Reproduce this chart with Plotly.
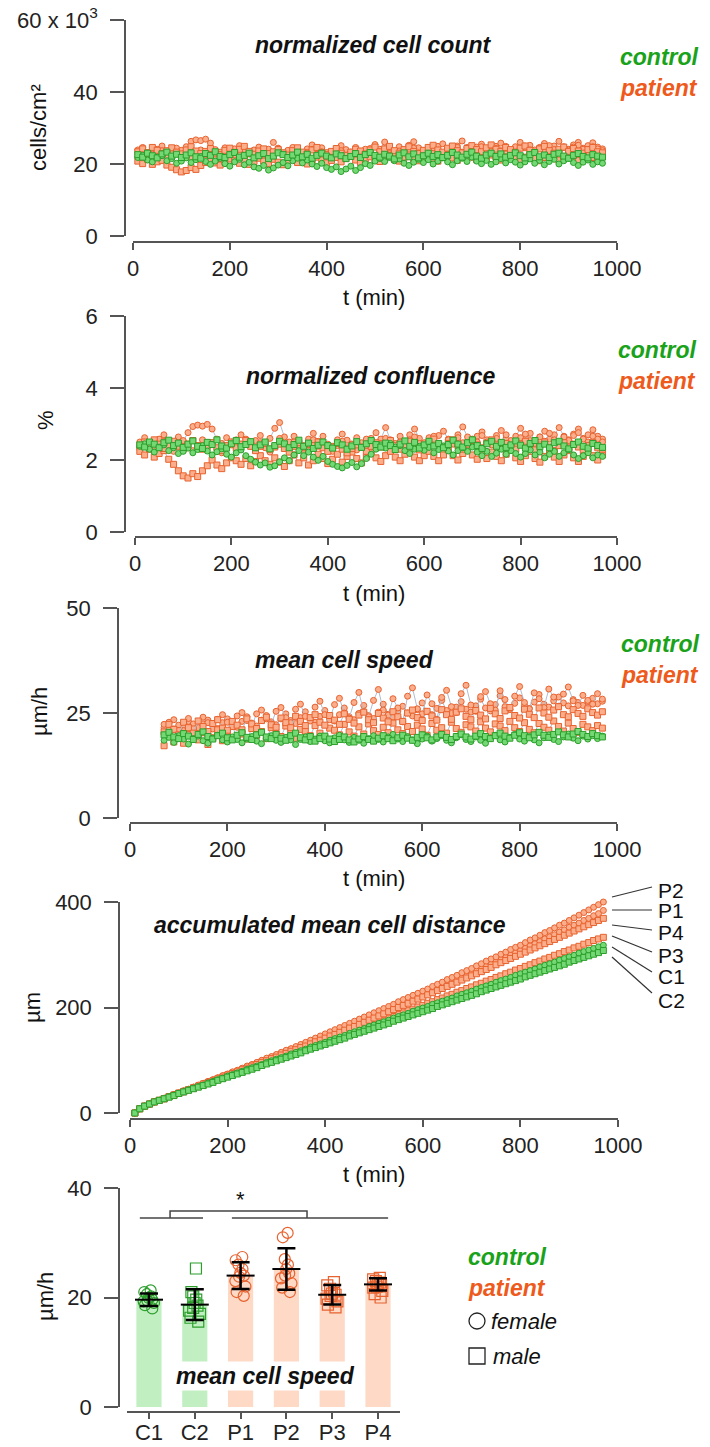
import plotly.graph_objects as go

# ---------------- data ----------------
TIME = list(range(10, 980, 10))          # min, panels 1,2,4
SPEED_TIME = list(range(70, 980, 10))    # min, panel 3
SAMPLES = ["C1", "C2", "P1", "P2", "P3", "P4"]
SEX = {"C1": "female", "C2": "male", "P1": "female", "P2": "female", "P3": "male", "P4": "male"}

# normalized cell count (x10^3 cells/cm2)
count_C1 = [21.8,22.4,21.1,20.6,21.9,22.3,20.9,21.5,20.2,20.8,
            21.7,20.4,21.2,22.1,20.7,19.9,20.8,21.6,20.1,19.4,
            20.6,21.3,19.8,20.5,19.2,18.8,19.6,18.3,18.9,19.7,
            20.4,19.5,20.9,21.6,20.3,21.1,20.0,19.3,20.2,19.0,
            18.5,19.2,17.9,18.6,19.4,18.2,19.0,20.1,19.6,20.8,
            21.5,20.7,21.8,20.9,21.4,20.2,19.6,20.5,21.3,20.4,
            21.2,20.0,20.8,21.7,20.6,19.8,20.9,21.6,20.7,21.9,
            20.8,20.1,21.0,19.9,20.6,21.5,20.3,21.2,20.5,19.7,
            20.6,21.4,20.2,21.0,19.8,20.7,21.3,20.0,20.9,21.6,
            20.4,19.6,20.5,21.1,19.9,20.6,20.2]
count_C2 = [22.6,21.9,23.0,22.3,21.7,22.8,23.3,22.2,22.7,21.8,
            22.5,23.1,22.0,21.6,22.9,22.4,23.4,22.1,21.8,22.6,
            23.2,21.9,22.4,23.0,21.7,22.3,22.9,21.5,22.2,23.1,
            22.6,21.8,22.5,23.3,22.0,22.7,21.6,22.4,23.0,22.2,
            21.7,22.8,22.3,21.5,22.1,22.9,21.8,22.6,23.2,22.4,
            21.9,22.7,22.2,21.4,22.5,23.1,22.0,22.8,21.7,22.3,
            23.0,22.1,22.6,21.8,22.4,23.2,22.5,21.9,22.7,23.3,
            22.2,21.6,22.5,23.0,22.1,22.8,21.9,22.4,23.1,22.3,
            21.7,22.6,23.2,22.0,22.5,21.8,22.7,23.0,22.2,21.6,
            22.4,22.9,22.1,21.7,22.6,22.2,21.9]
count_P1 = [23.9,24.6,23.2,22.7,24.1,25.0,23.5,22.9,24.4,23.6,
            24.8,26.3,26.7,26.5,26.9,25.8,24.0,23.3,24.5,23.1,
            24.2,25.1,23.4,22.8,23.9,24.7,23.3,24.1,26.0,24.4,
            23.0,23.8,24.6,23.5,22.9,24.2,25.3,23.7,24.5,23.2,
            22.7,23.9,25.1,24.0,23.3,24.6,23.1,22.8,24.3,25.4,
            24.1,26.1,24.0,23.4,24.8,23.6,25.2,26.2,24.5,23.7,
            24.4,23.5,24.9,25.6,24.2,23.8,25.0,26.4,24.6,23.9,
            24.7,25.5,24.0,23.6,24.9,25.8,24.3,23.7,24.8,26.0,
            24.5,25.2,23.9,24.6,25.7,24.2,25.0,26.3,24.8,24.1,
            25.3,26.0,24.4,25.1,25.9,24.7,24.2]
count_P2 = [22.1,23.3,22.5,21.6,22.9,23.7,22.2,21.8,23.0,23.8,
            22.4,21.7,22.8,23.9,22.6,23.4,22.0,21.5,22.7,23.6,
            22.3,23.1,24.0,22.8,22.1,23.5,22.4,21.6,22.9,24.2,
            23.0,22.3,23.6,22.5,21.9,23.2,24.0,22.7,23.4,22.2,
            21.8,22.9,23.7,22.4,23.1,22.0,23.5,24.1,22.8,22.3,
            23.3,24.2,22.9,22.4,23.6,22.7,23.9,24.4,23.1,22.6,
            23.8,24.5,23.2,22.8,24.0,23.4,24.6,23.3,22.9,24.2,
            23.6,24.8,23.5,23.0,24.3,23.7,24.9,23.8,23.2,24.4,
            25.0,23.9,23.3,24.5,23.8,25.1,24.0,23.4,24.6,23.9,
            24.7,25.2,24.1,23.6,24.8,24.2,23.7]
count_P3 = [20.8,20.1,21.3,19.9,20.6,21.0,19.7,19.1,18.4,17.8,
            18.2,19.0,18.5,19.6,20.4,21.2,20.3,19.7,20.6,21.4,
            20.9,20.2,21.1,19.9,20.7,21.6,20.8,20.1,21.3,20.5,
            19.8,20.9,21.7,20.4,21.2,20.0,20.8,21.9,21.1,20.3,
            21.0,21.8,20.6,21.5,22.2,21.1,20.4,21.3,22.0,21.2,
            20.7,21.6,22.4,21.3,20.8,21.9,22.5,21.4,20.9,21.7,
            22.3,21.5,20.8,21.8,22.6,21.7,21.0,22.1,22.8,21.9,
            21.2,22.0,21.4,22.5,21.8,21.1,22.2,22.9,21.6,21.0,
            21.9,22.6,21.5,20.9,21.8,22.7,21.7,21.1,22.0,22.8,
            21.6,21.0,21.9,22.6,21.8,21.2,22.1]
count_P4 = [23.4,24.2,23.1,24.6,23.8,22.9,23.7,24.5,23.3,22.8,
            23.9,24.8,23.6,22.9,23.5,24.3,23.0,22.6,23.8,24.4,
            23.2,24.1,24.9,23.5,22.7,23.6,24.2,22.9,23.4,24.0,
            23.1,22.5,23.7,24.5,23.3,22.8,23.9,24.6,23.2,22.6,
            23.5,24.3,23.0,22.4,23.3,24.1,23.6,22.8,23.9,24.7,
            23.4,24.2,24.9,23.7,23.0,24.0,24.8,23.5,22.9,23.8,
            24.6,25.2,23.9,23.3,24.4,25.0,23.7,23.1,24.3,25.1,
            24.0,23.4,24.5,25.3,24.1,23.5,24.6,24.0,23.3,24.4,
            25.0,23.8,23.2,24.2,24.9,23.7,23.0,24.1,24.7,23.5,
            24.3,23.6,23.0,24.0,24.6,23.4,23.1]

# normalized confluence (%)
conf_C1 = [2.38,2.45,2.30,2.22,2.36,2.42,2.26,2.34,2.18,2.24,
           2.33,2.20,2.29,2.40,2.25,2.14,2.23,2.31,2.16,2.08,
           2.20,2.28,2.12,2.02,1.94,1.86,1.92,1.80,1.84,1.95,
           2.06,1.98,2.14,2.26,2.12,2.22,2.08,1.99,2.10,1.96,
           1.88,1.82,1.78,1.85,1.93,1.81,1.90,2.04,2.16,2.30,
           2.42,2.33,2.46,2.36,2.40,2.26,2.18,2.30,2.38,2.27,
           2.35,2.20,2.29,2.39,2.25,2.14,2.26,2.34,2.24,2.36,
           2.22,2.12,2.24,2.10,2.19,2.30,2.16,2.26,2.18,2.08,
           2.18,2.28,2.14,2.22,2.06,2.16,2.24,2.10,2.20,2.29,
           2.14,2.04,2.12,2.20,2.06,2.14,2.10]
conf_C2 = [2.42,2.36,2.50,2.44,2.34,2.48,2.55,2.40,2.47,2.35,
           2.44,2.53,2.38,2.32,2.49,2.43,2.56,2.39,2.33,2.45,
           2.54,2.37,2.43,2.51,2.34,2.42,2.50,2.31,2.40,2.52,
           2.45,2.34,2.43,2.55,2.38,2.47,2.32,2.41,2.50,2.40,
           2.33,2.48,2.42,2.30,2.39,2.51,2.35,2.45,2.54,2.43,
           2.36,2.47,2.40,2.29,2.44,2.53,2.38,2.49,2.33,2.42,
           2.52,2.39,2.46,2.34,2.43,2.55,2.44,2.36,2.48,2.56,
           2.40,2.32,2.45,2.52,2.38,2.49,2.35,2.42,2.53,2.41,
           2.33,2.46,2.54,2.37,2.44,2.34,2.48,2.52,2.39,2.31,
           2.43,2.50,2.38,2.33,2.46,2.40,2.35]
conf_P1 = [2.50,2.62,2.44,2.36,2.58,2.70,2.48,2.40,2.64,2.52,
           2.76,2.93,2.97,2.94,2.99,2.86,2.58,2.46,2.62,2.42,
           2.56,2.70,2.47,2.38,2.54,2.68,2.46,2.60,2.88,3.04,
           2.64,2.50,2.66,2.48,2.40,2.58,2.74,2.52,2.66,2.44,
           2.38,2.56,2.72,2.55,2.44,2.62,2.42,2.36,2.60,2.76,
           2.58,2.90,2.56,2.46,2.66,2.50,2.70,2.86,2.60,2.48,
           2.62,2.50,2.68,2.80,2.58,2.50,2.70,2.92,2.64,2.52,
           2.66,2.78,2.56,2.48,2.68,2.82,2.60,2.50,2.66,2.88,
           2.62,2.74,2.54,2.64,2.80,2.58,2.70,2.90,2.66,2.56,
           2.72,2.86,2.60,2.70,2.84,2.66,2.58]
conf_P2 = [2.30,2.46,2.36,2.22,2.40,2.52,2.32,2.24,2.42,2.54,
           2.36,2.26,2.40,2.56,2.38,2.48,2.30,2.20,2.36,2.50,
           2.32,2.44,2.58,2.40,2.28,2.48,2.34,2.22,2.40,2.60,
           2.44,2.32,2.50,2.36,2.26,2.44,2.56,2.38,2.48,2.30,
           2.24,2.40,2.52,2.34,2.44,2.28,2.48,2.58,2.40,2.32,
           2.46,2.60,2.42,2.34,2.50,2.38,2.56,2.64,2.46,2.36,
           2.52,2.66,2.46,2.38,2.56,2.44,2.62,2.48,2.40,2.58,
           2.50,2.68,2.50,2.42,2.60,2.48,2.70,2.54,2.44,2.62,
           2.72,2.54,2.46,2.64,2.52,2.74,2.56,2.46,2.64,2.54,
           2.68,2.76,2.58,2.50,2.66,2.58,2.50]
conf_P3 = [2.24,2.14,2.30,2.08,2.18,2.26,2.02,1.88,1.70,1.56,
           1.50,1.62,1.54,1.70,1.84,2.00,1.86,1.76,1.92,2.06,
           1.98,1.88,2.04,1.84,1.96,2.12,1.98,1.88,2.06,1.94,
           1.82,1.98,2.14,1.92,2.06,1.86,1.98,2.16,2.04,1.90,
           2.02,2.16,1.94,2.10,2.22,2.04,1.92,2.08,2.20,2.06,
           1.96,2.12,2.24,2.08,1.98,2.16,2.26,2.08,1.98,2.12,
           2.24,2.10,1.98,2.14,2.28,2.12,2.00,2.18,2.30,2.14,
           2.02,2.16,2.04,2.22,2.10,1.98,2.16,2.28,2.06,1.96,
           2.12,2.24,2.04,1.94,2.10,2.22,2.08,1.96,2.14,2.26,
           2.06,1.96,2.10,2.22,2.12,2.00,2.14]
conf_P4 = [2.40,2.50,2.36,2.56,2.44,2.32,2.42,2.52,2.38,2.30,
           2.44,2.54,2.40,2.30,2.38,2.48,2.34,2.26,2.40,2.50,
           2.34,2.44,2.54,2.38,2.26,2.38,2.46,2.30,2.36,2.44,
           2.32,2.22,2.38,2.48,2.34,2.26,2.40,2.50,2.34,2.24,
           2.36,2.46,2.30,2.20,2.32,2.42,2.36,2.24,2.38,2.48,
           2.36,2.44,2.54,2.40,2.30,2.42,2.52,2.38,2.28,2.40,
           2.50,2.58,2.42,2.34,2.46,2.56,2.40,2.30,2.44,2.54,
           2.42,2.34,2.46,2.56,2.42,2.32,2.46,2.38,2.30,2.44,
           2.52,2.38,2.28,2.42,2.50,2.36,2.26,2.40,2.48,2.34,
           2.44,2.36,2.28,2.40,2.48,2.34,2.30]

# mean cell speed (um/h)
speed_C1 = [18.5,19.2,18.0,19.6,18.8,17.6,18.9,19.5,18.4,17.8,
            19.0,19.7,18.6,18.1,19.3,18.7,17.9,18.8,19.4,18.3,
            17.7,18.9,19.6,18.5,18.0,19.2,18.6,17.5,18.7,19.3,
            18.2,18.8,19.5,18.4,17.9,19.1,19.7,18.6,18.0,19.2,
            18.5,17.8,18.9,19.6,18.7,18.1,19.3,19.9,18.8,18.2,
            19.4,18.6,17.7,18.8,19.5,18.3,18.9,19.6,18.5,17.9,
            19.1,19.8,18.7,18.2,19.3,18.5,17.8,19.0,19.7,18.6,
            18.1,19.2,19.9,18.8,18.3,19.4,18.6,17.9,19.1,19.8,
            18.7,18.2,19.3,20.0,19.0,18.4,19.5,18.8,19.6,18.9,
            19.5]
speed_C2 = [19.8,20.4,19.3,18.9,20.1,19.5,18.7,19.9,20.5,19.4,
            18.8,19.6,20.2,19.1,18.6,19.7,20.3,19.2,18.7,19.8,
            20.4,19.3,18.9,19.9,19.0,18.5,19.6,20.2,19.1,18.6,
            19.4,18.3,18.9,19.5,18.8,18.2,18.7,19.3,18.6,18.1,
            18.8,19.4,18.7,18.3,19.0,19.6,18.9,18.4,19.1,19.7,
            19.0,18.5,19.2,19.8,19.1,18.6,19.3,19.9,19.2,18.7,
            19.4,20.0,19.3,18.8,19.5,20.1,19.4,18.9,19.6,20.2,
            19.5,19.0,19.7,20.3,19.6,19.1,19.8,20.4,19.7,19.2,
            19.9,20.5,19.8,19.3,20.0,20.6,19.9,19.4,20.1,19.6,
            19.3]
speed_P1 = [21.5,22.8,21.2,20.6,22.1,23.0,21.7,20.9,22.4,23.3,
            22.0,21.3,22.7,23.6,22.3,21.6,23.0,24.1,22.6,21.9,
            23.3,24.4,22.9,22.2,23.6,24.8,23.2,22.5,23.9,25.3,
            23.5,22.8,24.2,25.6,23.8,23.1,24.6,26.2,24.1,23.4,
            24.9,26.8,24.4,23.7,25.2,27.1,24.7,24.0,25.5,26.6,
            25.0,24.3,25.8,27.4,25.3,24.6,26.1,28.0,25.6,24.9,
            26.4,27.7,25.9,25.2,26.7,28.3,26.2,25.5,27.0,29.1,
            26.5,25.8,27.3,28.6,26.8,26.1,27.6,29.4,27.1,26.4,
            27.9,28.8,27.4,26.7,28.2,27.5,26.8,27.7,28.5,27.2,
            27.8]
speed_P2 = [22.3,21.0,23.4,22.1,20.8,23.7,22.4,21.5,24.0,22.7,
            21.2,23.5,24.6,22.8,21.9,24.3,25.1,23.2,22.0,24.8,
            25.7,23.6,22.4,25.4,26.3,23.9,22.7,25.9,27.1,24.2,
            23.1,26.4,27.8,24.6,23.4,27.0,28.5,25.0,23.8,27.5,
            29.9,25.3,24.1,28.0,30.6,25.7,24.5,28.4,26.2,22.9,
            29.0,31.0,26.0,24.8,29.3,27.2,23.5,28.7,30.4,26.5,
            25.1,29.6,31.6,26.9,25.4,28.9,30.1,27.2,25.7,30.3,
            28.2,25.9,29.0,31.3,27.5,26.0,29.8,28.4,26.3,30.7,
            28.8,26.6,29.5,31.2,27.9,26.8,29.2,28.0,27.1,29.6,
            28.3]
speed_P3 = [17.2,19.5,18.1,20.8,17.8,19.9,21.2,18.6,20.3,17.5,
            19.1,21.0,18.4,20.5,21.8,19.2,20.0,18.8,21.3,19.7,
            20.6,18.9,21.5,20.1,19.4,21.9,20.4,19.0,21.1,20.7,
            19.6,22.0,20.2,19.3,21.4,20.9,19.8,22.3,20.5,19.5,
            21.7,20.0,22.4,20.8,19.9,21.6,20.3,22.6,21.0,20.1,
            21.8,20.6,22.1,21.2,19.7,22.5,20.9,21.5,20.2,22.8,
            21.3,20.4,22.2,21.7,20.7,22.9,21.4,20.5,22.4,21.9,
            20.8,23.0,21.5,20.6,22.7,21.1,20.3,22.5,21.6,20.9,
            23.1,21.8,20.7,22.6,21.3,20.4,22.3,21.7,20.8,22.0,
            21.4]
speed_P4 = [20.5,22.3,21.1,19.8,22.8,21.5,20.2,23.1,21.8,20.6,
            22.5,23.4,21.4,20.9,23.0,22.1,21.0,23.6,22.4,21.3,
            23.2,24.0,22.2,21.6,23.8,22.7,21.5,24.2,23.0,22.0,
            23.9,24.6,22.8,22.1,24.4,23.3,22.3,24.8,23.5,22.6,
            24.5,25.2,23.4,22.7,24.9,23.8,22.9,25.3,24.1,23.0,
            25.0,25.7,23.9,23.2,25.4,24.3,23.3,25.8,24.6,23.5,
            25.2,26.0,24.2,23.4,25.6,24.5,23.6,26.1,24.8,23.7,
            25.5,26.3,24.4,23.8,25.9,24.7,23.9,26.2,25.0,24.0,
            25.7,26.5,24.6,24.1,25.8,24.9,24.2,26.0,25.1,24.5,
            25.3]

# accumulated mean cell distance (um)
dist_C1 = [0,8,13,17,21,24,27,31,34,37,40,44,47,50,53,57,60,63,66,70,
           73,76,79,83,86,89,92,96,99,102,105,108,112,115,118,121,125,128,131,134,
           138,141,144,147,151,154,157,160,164,167,170,173,176,180,183,186,189,193,196,199,
           202,206,209,212,215,218,222,225,228,231,235,238,241,244,248,251,254,257,261,264,
           267,270,273,277,280,283,286,290,293,296,299,303,306,309,312,315,318]
dist_C2 = [0,8,13,17,21,24,27,30,33,37,40,43,46,49,52,55,58,62,65,68,
           71,74,77,80,83,86,90,93,96,99,102,105,108,111,114,118,121,124,127,130,
           133,136,139,142,146,149,152,155,158,161,164,167,170,174,177,180,183,186,189,192,
           195,198,202,205,208,211,214,217,220,223,226,230,233,236,239,242,245,248,251,254,
           258,261,264,267,270,273,276,279,282,286,289,292,295,298,301,304,308]
dist_P1 = [0,8,13,17,21,24,28,31,35,38,42,45,49,52,56,59,63,66,70,73,
           77,80,84,88,91,95,99,102,106,110,113,117,121,124,128,132,136,139,143,147,
           151,154,158,162,166,170,174,177,181,185,189,193,197,201,205,209,213,217,221,225,
           229,233,237,241,245,249,253,257,262,266,270,274,278,282,287,291,295,299,304,308,
           312,317,321,325,330,334,338,343,347,352,356,360,365,369,374,378,384]
dist_P2 = [0,8,13,17,21,24,28,31,35,38,42,45,49,53,56,60,63,67,71,74,
           78,81,85,89,92,96,100,104,107,111,115,119,122,126,130,134,138,142,146,150,
           154,158,162,166,170,174,178,182,186,190,194,198,202,206,211,215,219,223,227,231,
           235,240,244,248,253,257,261,266,270,274,279,283,288,292,296,301,305,310,314,318,
           323,328,332,337,342,346,351,356,360,365,370,375,380,385,390,395,400]
dist_P3 = [0,8,13,17,21,24,27,31,34,37,40,44,47,50,53,57,60,63,66,70,
           73,76,79,83,86,89,92,96,99,102,105,109,112,115,118,122,125,128,132,135,
           138,142,145,148,152,155,159,162,166,169,173,176,180,183,187,190,194,197,201,204,
           208,211,215,218,222,225,229,232,236,239,243,246,250,253,257,260,264,267,271,274,
           278,281,285,288,292,295,299,302,306,309,313,316,320,323,327,330,333]
dist_P4 = [0,8,13,17,21,24,27,31,34,38,41,44,48,51,55,58,61,65,68,72,
           75,78,82,85,89,92,96,99,103,106,110,113,117,120,124,127,131,135,138,142,
           146,149,153,157,161,164,168,172,176,180,184,188,192,196,200,204,208,212,216,220,
           224,228,232,236,240,244,248,252,256,260,264,268,272,276,281,285,289,293,297,301,
           305,309,313,317,321,325,329,333,337,341,345,349,353,357,361,365,369]

# per-sample mean cell speed (um/h): individual values, mean, SD
pts_C1 = [18.0, 18.6, 19.0, 19.3, 19.6, 19.9, 20.2, 20.6, 21.0, 21.3, 19.4]
pts_C2 = [15.6, 16.3, 17.0, 17.6, 18.1, 18.5, 19.0, 19.6, 20.2, 21.0, 25.3]
pts_P1 = [20.3, 21.0, 22.0, 23.0, 23.8, 24.5, 25.2, 26.0, 26.8, 27.4, 24.0]
pts_P2 = [21.0, 21.8, 22.6, 23.5, 24.4, 25.2, 26.0, 27.0, 31.0, 31.8, 24.0]
pts_P3 = [18.2, 18.7, 19.3, 19.8, 20.3, 20.7, 21.1, 21.6, 22.2, 22.8, 20.5]
pts_P4 = [20.0, 20.6, 21.2, 21.8, 22.3, 22.7, 23.0, 23.3, 23.6, 22.5, 22.0]
bar_mean = [19.6, 18.7, 24.0, 25.2, 20.5, 22.4]
bar_sd = [1.15, 2.8, 2.45, 3.8, 1.8, 1.1]

# ---------------- style ----------------
W, H = 710, 1447
FONT = "Liberation Sans"
GREEN_FILL, GREEN_EDGE = "#74d874", "#2b9e2b"
ORANGE_FILL, ORANGE_EDGE = "#fbae8c", "#e8622f"
GREEN_TXT, ORANGE_TXT = "#1aa21a", "#ee5a1c"
GREEN_BAR, ORANGE_BAR = "#c2efc2", "#fdd9c6"
LINE_GRAY = "#b3bccb"
AX = "#555555"


def px(x):
    return x / W


def py(y):
    return 1 - y / H


fig = go.Figure()

series_sets = [
    (TIME, {"C1": count_C1, "C2": count_C2, "P1": count_P1, "P2": count_P2, "P3": count_P3, "P4": count_P4}),
    (TIME, {"C1": conf_C1, "C2": conf_C2, "P1": conf_P1, "P2": conf_P2, "P3": conf_P3, "P4": conf_P4}),
    (SPEED_TIME, {"C1": speed_C1, "C2": speed_C2, "P1": speed_P1, "P2": speed_P2, "P3": speed_P3, "P4": speed_P4}),
    (TIME, {"C1": dist_C1, "C2": dist_C2, "P1": dist_P1, "P2": dist_P2, "P3": dist_P3, "P4": dist_P4}),
]

# panel geometry in pixels
panels = [
    dict(x0=133, x1=617, ytop=20, ybot=236, yax=125, xax=242, yr=[0, 60], tv=[0, 20, 40, 60],
         tt=["0", "20", "40", "60 x 10<sup>3</sup>"]),
    dict(x0=135, x1=617, ytop=316, ybot=532, yax=125, xax=537, yr=[0, 6], tv=[0, 2, 4, 6], tt=None),
    dict(x0=130, x1=617, ytop=608, ybot=818, yax=118, xax=823, yr=[0, 50], tv=[0, 25, 50], tt=None),
    dict(x0=130, x1=618, ytop=902, ybot=1113, yax=119, xax=1119, yr=[0, 400], tv=[0, 200, 400], tt=None),
]

order = ["P1", "P2", "P3", "P4", "C1", "C2"]
for i, (p, (tt_, sset)) in enumerate(zip(panels, series_sets), start=1):
    xa, ya = f"x{i}", f"y{i}"
    for s in order:
        ctrl = s.startswith("C")
        fig.add_trace(go.Scatter(
            x=tt_, y=sset[s], mode="lines+markers", xaxis=xa, yaxis=ya,
            line=dict(color=LINE_GRAY, width=1),
            marker=dict(symbol="circle" if SEX[s] == "female" else "square", size=6,
                        color=GREEN_FILL if ctrl else ORANGE_FILL,
                        line=dict(color=GREEN_EDGE if ctrl else ORANGE_EDGE, width=1)),
            showlegend=False, cliponaxis=False, hoverinfo="skip"))
    fig.update_layout({
        f"xaxis{i}": dict(domain=[px(p["x0"]), px(p["x1"])], range=[0, 1000], anchor="free",
                          position=py(p["xax"]), showline=True, linecolor=AX, linewidth=1.5,
                          ticks="outside", ticklen=7, tickwidth=1.5, tickcolor=AX, automargin=False,
                          tickvals=[0, 200, 400, 600, 800, 1000], showgrid=False, zeroline=False,
                          tickfont=dict(size=22, color="#222")),
        f"yaxis{i}": dict(domain=[py(p["ybot"]), py(p["ytop"])], range=p["yr"], anchor="free",
                          position=px(p["yax"]), showline=True, linecolor=AX, linewidth=1.5,
                          ticks="outside", ticklen=14, tickwidth=1.5, tickcolor=AX, automargin=False,
                          tickvals=p["tv"], ticktext=p["tt"] if p["tt"] else [str(v) for v in p["tv"]],
                          showgrid=False, zeroline=False, ticklabelstandoff=8,
                          tickfont=dict(size=22, color="#222")),
    })

# ---------------- panel 5: bar chart ----------------
pts = {"C1": pts_C1, "C2": pts_C2, "P1": pts_P1, "P2": pts_P2, "P3": pts_P3, "P4": pts_P4}
fig.add_trace(go.Bar(x=SAMPLES, y=bar_mean, width=0.55, xaxis="x5", yaxis="y5",
                     marker=dict(color=[GREEN_BAR if s.startswith("C") else ORANGE_BAR for s in SAMPLES],
                                 line=dict(width=0)),
                     showlegend=False, hoverinfo="skip"))
for s in SAMPLES:
    ctrl = s.startswith("C")
    fig.add_trace(go.Box(x=[s] * len(pts[s]), y=pts[s], xaxis="x5", yaxis="y5",
                         boxpoints="all", jitter=0.6, pointpos=0,
                         fillcolor="rgba(0,0,0,0)", line=dict(width=0, color="rgba(0,0,0,0)"),
                         marker=dict(symbol="circle-open" if SEX[s] == "female" else "square-open",
                                     size=11, color=GREEN_EDGE if ctrl else ORANGE_EDGE,
                                     line=dict(width=1.2)),
                         showlegend=False, hoverinfo="skip"))
fig.add_trace(go.Scatter(x=SAMPLES, y=bar_mean, mode="markers", xaxis="x5", yaxis="y5",
                         marker=dict(symbol="line-ew", size=20, line=dict(width=2, color="black")),
                         error_y=dict(type="data", array=bar_sd, color="black", thickness=2.5, width=9),
                         showlegend=False, hoverinfo="skip"))
fig.update_layout(
    boxmode="overlay",
    xaxis5=dict(domain=[px(127), px(400)], range=[-0.48, 5.48], anchor="free", position=py(1412),
                showline=True, linecolor=AX, linewidth=1.5, ticks="outside", ticklen=6, tickwidth=1.5,
                tickcolor=AX, type="category", showgrid=False, zeroline=False, automargin=False,
                ticklabelstandoff=-5, tickfont=dict(size=22, color="#222")),
    yaxis5=dict(domain=[py(1407), py(1188)], range=[0, 40], anchor="free", position=px(119),
                showline=True, linecolor=AX, linewidth=1.5, ticks="outside", ticklen=14, tickwidth=1.5,
                tickcolor=AX, tickvals=[0, 20, 40], showgrid=False, zeroline=False, ticklabelstandoff=8,
                automargin=False, tickfont=dict(size=22, color="#222")),
)

# significance bracket (category index coordinates)
shapes = []
for (xa0, xa1, yv) in [(-0.2, 1.18, 34.5), (1.81, 5.22, 34.5)]:
    shapes.append(dict(type="line", xref="x5", yref="y5", x0=xa0, x1=xa1, y0=yv, y1=yv,
                       line=dict(color="#444", width=1.5)))
shapes.append(dict(type="path", xref="x5", yref="y5",
                   path="M 0.46 34.5 L 0.46 35.8 L 3.45 35.8 L 3.45 34.5",
                   line=dict(color="#444", width=1.5)))

# leader lines for panel 4 labels (pixel layout)
leaders = [("P2", 897, 887, 890), ("P1", 910, 910, 910), ("P4", 925, 930, 932),
           ("P3", 936, 952, 955), ("C1", 947, 972, 977), ("C2", 957, 993, 1000)]
for lab, ys, ye, yl in leaders:
    shapes.append(dict(type="line", xref="paper", yref="paper", x0=px(612), x1=px(652),
                       y0=py(ys), y1=py(ye), line=dict(color="#333", width=1.2)))

# legend symbols (female / male)
shapes.append(dict(type="circle", xref="paper", yref="paper", x0=px(469), x1=px(485),
                   y0=py(1329), y1=py(1313), line=dict(color="#222", width=1.3)))
shapes.append(dict(type="rect", xref="paper", yref="paper", x0=px(469), x1=px(485),
                   y0=py(1364), y1=py(1348), line=dict(color="#222", width=1.3)))

ann = []


def text(x, y, s, size=22, color="#111", xanchor="center", angle=0, bg=None):
    d = dict(x=px(x), y=py(y), xref="paper", yref="paper", text=s, showarrow=False,
             xanchor=xanchor, yanchor="middle", textangle=angle,
             font=dict(family=FONT, size=size, color=color))
    if bg:
        d["bgcolor"] = bg
    ann.append(d)


# titles
text(373, 45, "<b><i>normalized cell count</i></b>", 23)
text(370, 376, "<b><i>normalized confluence</i></b>", 23)
text(344, 660, "<b><i>mean cell speed</i></b>", 23)
text(330, 925, "<b><i>accumulated mean cell distance</i></b>", 23)
text(265, 1376, "<b><i>mean cell speed</i></b>", 23, bg="white")

# group labels
for (cx, cy) in [(659, 57), (657, 350), (660, 644), (507, 1257)]:
    text(cx, cy, "<b><i>control</i></b>", 23, GREEN_TXT)
    text(cx, cy + 31, "<b><i>patient</i></b>", 23, ORANGE_TXT)
text(489, 1321, "<i>female</i>", 22, "#111", xanchor="left")
text(491, 1356, "<i>male</i>", 22, "#111", xanchor="left")

# axis titles
text(38, 128, "cells/cm²", 22, angle=-90)
text(45, 420, "%", 22, angle=-90)
text(40, 712, "µm/h", 22, angle=-90)
text(32, 1008, "µm", 22, angle=-90)
text(45, 1297, "µm/h", 22, angle=-90)
for yy in [298, 593, 878, 1174]:
    text(374, yy, "t (min)", 22)

# panel 4 sample labels
for lab, ys, ye, yl in leaders:
    text(656, yl, lab, 21, "#111", xanchor="left")

# star
text(240, 1199, "*", 22)

fig.update_layout(width=W, height=H, margin=dict(l=0, r=0, t=0, b=0, pad=0, autoexpand=False),
                  paper_bgcolor="white", plot_bgcolor="white", showlegend=False,
                  font=dict(family=FONT, size=22, color="#222"),
                  shapes=shapes, annotations=ann, barmode="overlay")

fig.write_html("out.html", config={"displayModeBar": False},
               post_script="document.body.style.margin='0';document.body.style.overflow='hidden';")
